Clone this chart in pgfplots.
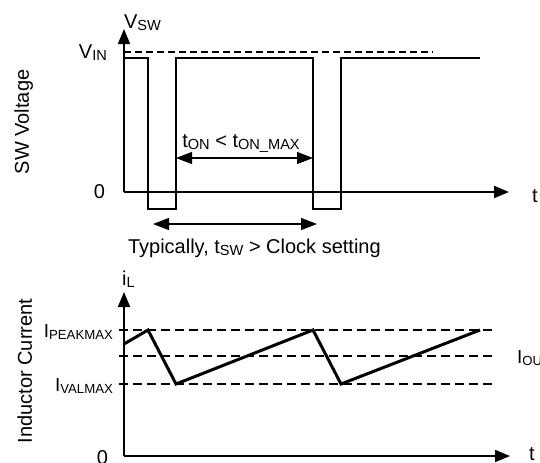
\documentclass[border=0pt]{standalone}
\usepackage{fontspec}
\setmainfont{Liberation Sans}
\usepackage{pgfplots}
\pgfplotsset{compat=1.18}
\usetikzlibrary{arrows.meta}

% text subscripts as in the reference (small, slightly lowered)
\newcommand{\sub}[1]{\raisebox{-1.2pt}{\fontsize{7.3}{8}\selectfont #1}}
\newcommand{\ssub}[1]{\raisebox{-1pt}{\fontsize{6.6}{7}\selectfont #1}}

\tikzset{lvlabel/.style={font=\fontsize{9.4}{11}\selectfont}}

\pgfplotsset{
  timing/.style={
    x=0.5pt, y=0.5pt,
    xmin=0, ymin=0,
    enlargelimits=false,
    axis lines=left,
    axis line style={line width=0.9pt, -{Triangle[length=7.5pt,width=6pt]}},
    xtick=\empty, ytick=\empty,
    clip=false,
    every node/.append style={inner sep=0pt, font=\fontsize{11.2}{13}\selectfont},
  },
  dim/.style={line width=0.6pt, {Triangle[length=8pt,width=6pt]}-{Triangle[length=8pt,width=6pt]}},
  level/.style={line width=0.6pt, dash pattern=on 4.5pt off 2.5pt},
}

\begin{document}
\begin{tikzpicture}
\useasboundingbox (0,0) rectangle (270pt,-231pt);

% ---- SW voltage ----
\begin{axis}[timing, at={(62pt,-96pt)}, anchor=south west, xmax=385, ymax=163]
  \addplot[line width=0.6pt, dash pattern=on 3.5pt off 2pt] coordinates {(0,140) (309,140)};
  \addplot[line width=1.2pt, line join=miter] coordinates {
    (0,134) (24,134) (24,-17) (52,-17) (52,134) (189,134)
    (189,-17) (217,-17) (217,134) (356,134)};
  \addplot[dim] coordinates {(52,34) (189,34)};
  \addplot[dim] coordinates {(29,-32) (193,-32)};
  \node[anchor=base west] at (axis cs:-7,164) {V\sub{SW}};
  \node[anchor=base east] at (axis cs:-10,134) {V\sub{IN}};
  \node[anchor=east] at (axis cs:-12,0) {0};
  \node[anchor=base west] at (axis cs:401,-10) {t};
  \node[anchor=base] at (axis cs:117,45) {t\sub{ON} < t\sub{ON\_MAX}};
  \node[anchor=base west] at (axis cs:-3,-61) {Typically, t\sub{SW} > Clock setting};
  \node[anchor=base, rotate=90] at (axis cs:-95,70) {SW Voltage};
\end{axis}

% ---- inductor current ----
\begin{axis}[timing, at={(62pt,-228pt)}, anchor=south west, xmax=386, ymax=164]
  \addplot[level] coordinates {(-5,126) (373,126)};
  \addplot[level] coordinates {(-5,100) (373,100)};
  \addplot[level] coordinates {(-5,72) (373,72)};
  \addplot[line width=1.5pt, line join=miter] coordinates {
    (0,112) (24,126) (52,72) (189,126) (217,72) (356,126)};
  \node[anchor=base west] at (axis cs:-9,171) {i\sub{L}};
  \node[anchor=base east, lvlabel] at (axis cs:-4,119) {I\ssub{PEAKMAX}};
  \node[anchor=base east, lvlabel] at (axis cs:-4,65) {I\ssub{VALMAX}};
  \node[anchor=base west, lvlabel] at (axis cs:386,93) {I\ssub{OUT}};
  \node[anchor=east] at (axis cs:-9,-2) {0};
  \node[anchor=base west] at (axis cs:398,-4) {t};
  \node[anchor=base, rotate=90] at (axis cs:-92,85) {Inductor Current};
\end{axis}
\end{tikzpicture}
\end{document}
